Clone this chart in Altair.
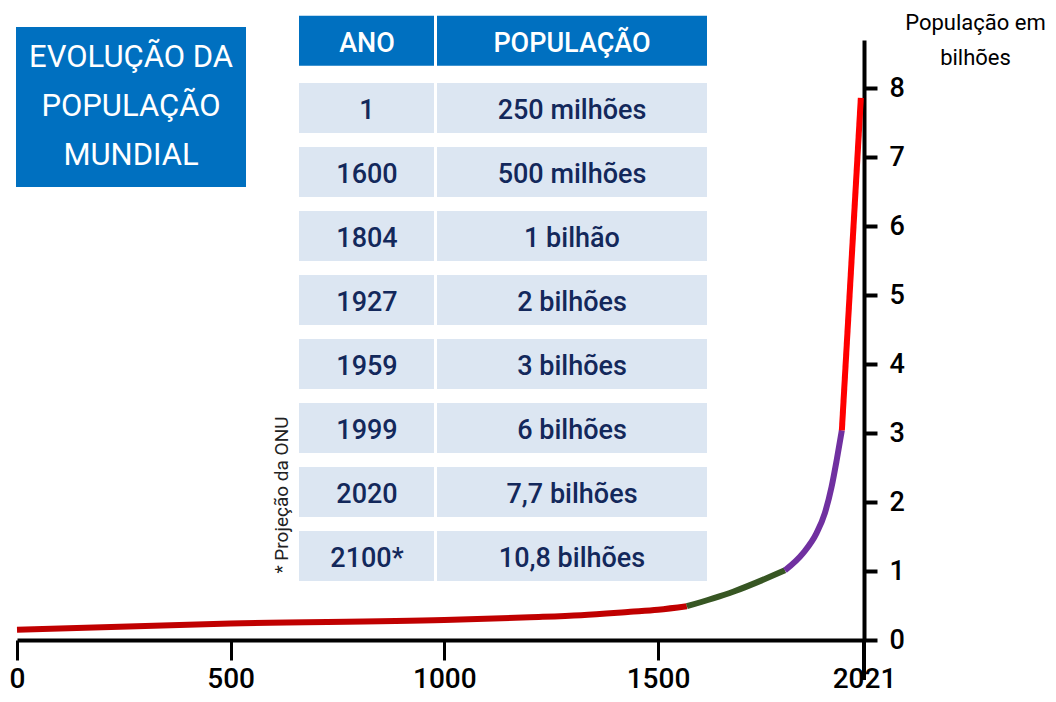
import altair as alt
import pandas as pd

# ---- data ----
seg1_years = [0, 500, 1000, 1200, 1320, 1435, 1500, 1573]
seg1_values = [0.15, 0.24, 0.29, 0.33, 0.36, 0.41, 0.44, 0.49]
seg2_years = [1573, 1690, 1821]
seg2_values = [0.49, 0.70, 1.01]
seg3_years = [1821, 1867, 1901, 1922, 1939, 1952, 1965]
seg3_values = [1.01, 1.26, 1.55, 1.84, 2.22, 2.61, 3.04]
seg4_years = [1965, 2013]
seg4_values = [3.04, 7.86]

seg_names = ["s1", "s2", "s3", "s4"]
seg_colors = ["#C00000", "#375623", "#7030A0", "#FF0000"]

table_header = ["ANO", "POPULAÇÃO"]
table_years = ["1", "1600", "1804", "1927", "1959", "1999", "2020", "2100*"]
table_pops = ["250 milhões", "500 milhões", "1 bilhão", "2 bilhões", "3 bilhões",
              "6 bilhões", "7,7 bilhões", "10,8 bilhões"]

x_ticks = [0, 500, 1000, 1500, 2021]
y_ticks = [0, 1, 2, 3, 4, 5, 6, 7, 8]
title_lines = ["EVOLUÇÃO DA", "POPULAÇÃO", "MUNDIAL"]
y_title = ["População em", "bilhões"]
note_text = "* Projeção da ONU"

FONT = "Roboto"
NAVY = "#13285B"
BLUE = "#0070C0"
LIGHT = "#DCE6F2"

# ---- tables ----
rows = []
for segname, ys, vs in zip(seg_names, [seg1_years, seg2_years, seg3_years, seg4_years],
                           [seg1_values, seg2_values, seg3_values, seg4_values]):
    for y, v in zip(ys, vs):
        rows.append({"year": y, "value": v, "seg": segname})
df_line = pd.DataFrame(rows)

df_table = pd.DataFrame({
    "row": [-0.05] + list(range(1, len(table_years) + 1)),
    "ano": [table_header[0]] + table_years,
    "pop": [table_header[1]] + table_pops,
    "hdr": [True] + [False] * len(table_years),
})

xscale = alt.Scale(domain=[0, 1500, 2021], range=[0, 641, 847], nice=False, zero=False)
yscale = alt.Scale(domain=[0, 8.7], nice=False, zero=True)
rowscale = alt.Scale(domain=[1, 8], range=[68, 516], nice=False, zero=False)

line = alt.Chart(df_line).mark_line(
    interpolate="monotone", strokeWidth=6, strokeCap="butt"
).encode(
    x=alt.X("year:Q", scale=xscale, axis=alt.Axis(
        values=x_ticks, format="d", title=None, grid=False,
        domainColor="black", domainWidth=4, tickColor="black", tickWidth=3, tickSize=20,
        labelFont=FONT, labelFontSize=28, labelFontWeight=500, labelColor="black",
        labelBaseline="alphabetic", labelPadding=27,
        labelFlush=False, labelOverlap=False)),
    y=alt.Y("value:Q", scale=yscale, axis=alt.Axis(
        orient="right", values=y_ticks, format="d", grid=False,
        title=y_title, titleAngle=0, titleX=111, titleY=-18, titleAlign="center",
        titleBaseline="middle", titleFont=FONT, titleFontSize=22, titleFontWeight="normal",
        titleLineHeight=35, titleColor="black",
        domainColor="black", domainWidth=4, tickColor="black", tickWidth=4, tickSize=13,
        labelFont=FONT, labelFontSize=27, labelFontWeight=500, labelColor="black",
        labelPadding=12)),
    color=alt.Color("seg:N", scale=alt.Scale(domain=seg_names, range=seg_colors), legend=None),
)

rule = alt.Chart(pd.DataFrame({"year": [x_ticks[-1]]})).mark_rule(
    color="black", strokeWidth=4
).encode(x=alt.X("year:Q", scale=xscale), y=alt.value(600), y2=alt.value(640))

box = alt.Chart(pd.DataFrame({"t": ["\n".join(title_lines)]})).mark_rect(color=BLUE).encode(
    x=alt.value(-1), x2=alt.value(229), y=alt.value(-13), y2=alt.value(147))
box_text = alt.Chart(pd.DataFrame({"t": ["\n".join(title_lines)]})).mark_text(
    font=FONT, fontSize=31, color="white", align="center", baseline="middle",
    lineBreak="\n", lineHeight=49
).encode(x=alt.value(114), y=alt.value(18), text="t:N")

note = alt.Chart(pd.DataFrame({"t": [note_text]})).mark_text(
    font=FONT, fontSize=19, color="#222222", angle=270, align="center", baseline="middle"
).encode(x=alt.value(265), y=alt.value(455), text="t:N")

tbase = alt.Chart(df_table).transform_calculate(
    top="datum.row - 0.39", bot="datum.row + 0.39")
fillc = alt.condition("datum.hdr", alt.value(BLUE), alt.value(LIGHT))
textc = alt.condition("datum.hdr", alt.value("white"), alt.value(NAVY))

ano_rect = tbase.mark_rect().encode(
    x=alt.value(282), x2=alt.value(417),
    y=alt.Y("top:Q", scale=rowscale, axis=None), y2="bot:Q", color=fillc)
pop_rect = tbase.mark_rect().encode(
    x=alt.value(420), x2=alt.value(690),
    y=alt.Y("top:Q", scale=rowscale, axis=None), y2="bot:Q", color=fillc)
ano_text = tbase.mark_text(font=FONT, fontSize=27, fontWeight=500, align="center",
                           baseline="middle", dy=3).encode(
    x=alt.value(350), y=alt.Y("row:Q", scale=rowscale, axis=None), text="ano:N", color=textc)
pop_text = tbase.mark_text(font=FONT, fontSize=27, fontWeight=500, align="center",
                           baseline="middle", dy=3).encode(
    x=alt.value(555), y=alt.Y("row:Q", scale=rowscale, axis=None), text="pop:N", color=textc)

chart = alt.layer(
    box, box_text, note, ano_rect, pop_rect, ano_text, pop_text, rule, line
).resolve_scale(y="independent").properties(
    width=847, height=600,
    padding={"left": 9, "top": 32, "right": 184, "bottom": 54},
    autosize=alt.AutoSizeParams(type="none"),
).configure_view(stroke=None)

chart.save("out.html", embed_options={"renderer": "svg", "actions": False})
